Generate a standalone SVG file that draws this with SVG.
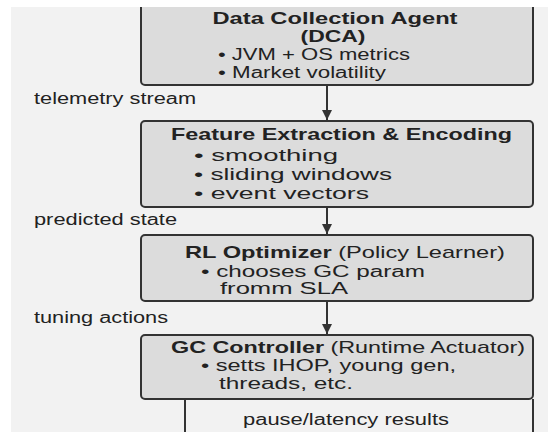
<svg xmlns="http://www.w3.org/2000/svg" width="548" height="432" viewBox="0 0 548 432">
<style>
.bg{fill:#f2f2f2}
.box{fill:#dcdcdc;stroke:#333;stroke-width:2}
.t{font-family:"Liberation Sans",Arial,sans-serif;fill:#222}
.h{font-size:17px;font-weight:bold}
.b{font-size:16px}
.l{font-size:16px}
.rg{font-weight:normal}
.c{stroke:#333;stroke-width:2;fill:none}
</style>
<defs>
<marker id="ah" viewBox="0 0 10 10" refX="10" refY="5" markerWidth="5" markerHeight="5" orient="auto" markerUnits="strokeWidth">
<path d="M0,0 L10,5 L0,10 z" fill="#333"/>
</marker>
</defs>
<rect width="548" height="432" class="bg"/>
<g id="connectors">
<line class="c" x1="327" y1="85" x2="327" y2="120" marker-end="url(#ah)"/>
<line class="c" x1="327" y1="207" x2="327" y2="234" marker-end="url(#ah)"/>
<line class="c" x1="327" y1="301" x2="327" y2="334" marker-end="url(#ah)"/>
<line class="c" x1="185" y1="399" x2="185" y2="440"/>
<line class="c" x1="533" y1="399" x2="533" y2="440"/>
</g>
<g id="dca">
<rect class="box" x="141" y="-10" width="392" height="95" rx="4"/>
<text class="t h" x="335" y="24" text-anchor="middle" textLength="245" lengthAdjust="spacingAndGlyphs">Data Collection Agent</text>
<text class="t h" x="333" y="42" text-anchor="middle" textLength="65" lengthAdjust="spacingAndGlyphs">(DCA)</text>
<text class="t b" x="218" y="60" textLength="192" lengthAdjust="spacingAndGlyphs">• JVM + OS metrics</text>
<text class="t b" x="218" y="78" textLength="168" lengthAdjust="spacingAndGlyphs">• Market volatility</text>
</g>
<g id="label-telemetry">
<text class="t l" x="34" y="104" textLength="162" lengthAdjust="spacingAndGlyphs">telemetry stream</text>
</g>
<g id="feature">
<rect class="box" x="141" y="121" width="392" height="86" rx="4"/>
<text class="t h" x="171" y="140" textLength="341" lengthAdjust="spacingAndGlyphs">Feature Extraction &amp; Encoding</text>
<text class="t b" x="194" y="161" textLength="144" lengthAdjust="spacingAndGlyphs">• smoothing</text>
<text class="t b" x="194" y="180" textLength="198" lengthAdjust="spacingAndGlyphs">• sliding windows</text>
<text class="t b" x="194" y="199" textLength="175" lengthAdjust="spacingAndGlyphs">• event vectors</text>
</g>
<g id="label-predicted">
<text class="t l" x="34" y="225" textLength="143" lengthAdjust="spacingAndGlyphs">predicted state</text>
</g>
<g id="rl">
<rect class="box" x="141" y="235" width="392" height="66" rx="4"/>
<text class="t h" x="185" y="258" textLength="320" lengthAdjust="spacingAndGlyphs">RL Optimizer <tspan class="rg">(Policy Learner)</tspan></text>
<text class="t b" x="201" y="277" textLength="224" lengthAdjust="spacingAndGlyphs">• chooses GC param</text>
<text class="t b" x="220" y="294" textLength="128" lengthAdjust="spacingAndGlyphs">fromm SLA</text>
</g>
<g id="label-tuning">
<text class="t l" x="34" y="323" textLength="134" lengthAdjust="spacingAndGlyphs">tuning actions</text>
</g>
<g id="gc">
<rect class="box" x="141" y="335" width="392" height="64" rx="4"/>
<text class="t h" x="171" y="353" textLength="354" lengthAdjust="spacingAndGlyphs">GC Controller <tspan class="rg">(Runtime Actuator)</tspan></text>
<text class="t b" x="201" y="371" textLength="255" lengthAdjust="spacingAndGlyphs">• setts IHOP, young gen,</text>
<text class="t b" x="219" y="389" textLength="134" lengthAdjust="spacingAndGlyphs">threads, etc.</text>
</g>
<g id="label-pause">
<text class="t l" x="243" y="425" textLength="206" lengthAdjust="spacingAndGlyphs">pause/latency results</text>
</g>
<rect x="0" y="0" width="548" height="7" fill="#fff"/>
<rect x="0" y="0" width="11" height="432" fill="#fff"/>
</svg>
